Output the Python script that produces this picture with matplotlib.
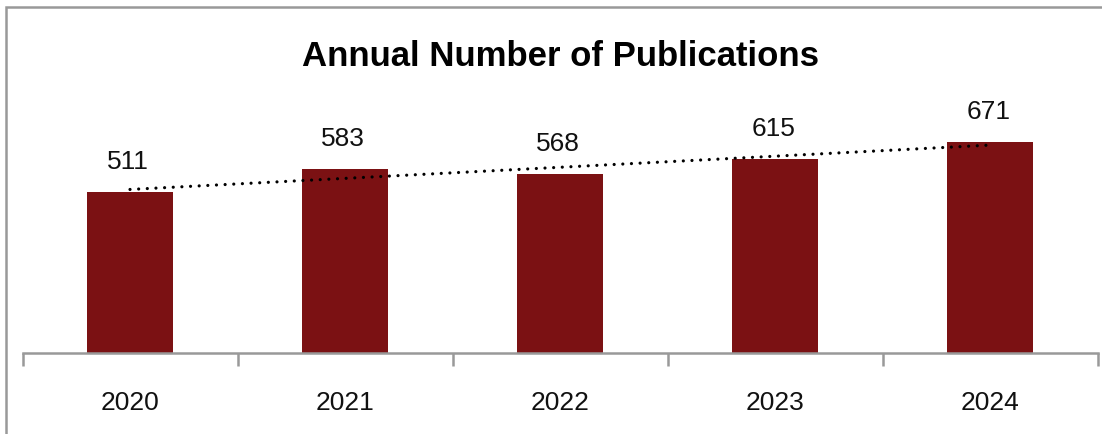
import matplotlib
matplotlib.use("Agg")
import matplotlib.pyplot as plt
import numpy as np
from matplotlib.patches import Rectangle

years = ["2020", "2021", "2022", "2023", "2024"]
publications = [511, 583, 568, 615, 671]
title = "Annual Number of Publications"

plt.rcParams['font.family'] = ['Liberation Sans', 'DejaVu Sans']

W, H = 1102, 434
fig = plt.figure(figsize=(W / 100, H / 100), dpi=100)

# axes: x from 22.5 to 1097.5 px, y baseline at 353, top at 101 (for ylim 800)
left, right = 22.5 / W, 1097.5 / W
bottom = (H - 353) / H
top = (H - 101) / H
ax = fig.add_axes([left, bottom, right - left, top - bottom])

x = np.arange(len(years))
bar_color = "#7B1113"
ax.bar(x, publications, width=0.4, color=bar_color, zorder=2)

# linear trendline
coef = np.polyfit(x, publications, 1)
trend = np.polyval(coef, x)
ax.plot(x, trend, linestyle=(0, (0.01, 2.7)), color="black", linewidth=2.3, zorder=3,
        dash_capstyle="round")

for xi, v in zip(x, publications):
    ax.text(xi - 0.008, v + 95, str(v), ha="center", va="center",
            fontsize=19, color="#111111")

ax.set_xlim(-0.5, len(years) - 0.5)
ax.set_ylim(0, 800)
ax.set_xticks(x)
ax.set_xticklabels(years, fontsize=19, color="#111111")
ax.tick_params(axis="x", which="major", length=0, pad=27)
ax.set_xticks(np.arange(-0.5, len(years)), minor=True)
ax.tick_params(axis="x", which="minor", length=9, width=1.8, color="#999999")
ax.set_yticks([])
for s in ["left", "right", "top"]:
    ax.spines[s].set_visible(False)
ax.spines["bottom"].set_color("#999999")
ax.spines["bottom"].set_linewidth(1.8)

fig.text(560 / W, 1 - 56 / H, title, ha="center", va="center",
         fontsize=25, fontweight="bold")

# outer border (only left and top visible within image)
fig.patches.append(Rectangle((6 / W, -0.1), 1.2, (H - 7) / H + 0.1,
                             transform=fig.transFigure, fill=False,
                             edgecolor="#999999", linewidth=1.8))

fig.savefig("out.png", dpi=100)
